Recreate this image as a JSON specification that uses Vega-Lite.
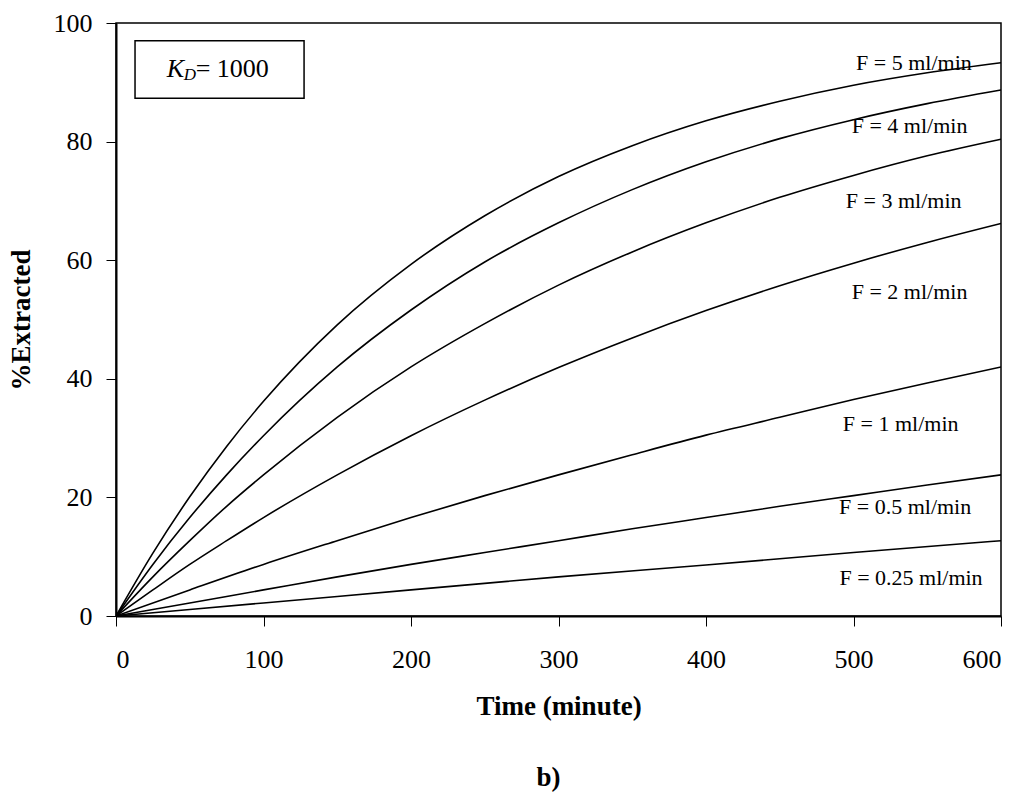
{
  "$schema": "https://vega.github.io/schema/vega-lite/v6.json",
  "width": 885,
  "height": 593,
  "autosize": "none",
  "padding": {"left": 116, "top": 23, "right": 26, "bottom": 176},
  "background": "white",
  "config": {
    "font": "Liberation Serif",
    "view": {"stroke": "black", "strokeWidth": 1.5},
    "axis": {
      "grid": false,
      "domainColor": "black",
      "domainWidth": 2,
      "tickColor": "black",
      "tickWidth": 1,
      "tickSize": 10,
      "labelFont": "Liberation Serif",
      "labelFontSize": 26,
      "labelColor": "black",
      "titleFont": "Liberation Serif",
      "titleFontSize": 27,
      "titleFontWeight": "bold",
      "titleColor": "black"
    }
  },
  "title": {
    "text": "b)",
    "orient": "bottom",
    "anchor": "middle",
    "offset": 46,
    "dx": -10,
    "font": "Liberation Serif",
    "fontSize": 27,
    "fontWeight": "bold",
    "color": "black"
  },
  "datasets": {
    "curves": [
      {"F": "5", "t": 0, "pct": 0}, {"F": "5", "t": 25, "pct": 10.6}, {"F": "5", "t": 50, "pct": 20.1}, {"F": "5", "t": 75, "pct": 28.6}, {"F": "5", "t": 100, "pct": 36.2}, {"F": "5", "t": 150, "pct": 49.1}, {"F": "5", "t": 200, "pct": 59.3}, {"F": "5", "t": 250, "pct": 67.5}, {"F": "5", "t": 300, "pct": 74.1}, {"F": "5", "t": 350, "pct": 79.3}, {"F": "5", "t": 400, "pct": 83.5}, {"F": "5", "t": 450, "pct": 86.8}, {"F": "5", "t": 500, "pct": 89.5}, {"F": "5", "t": 550, "pct": 91.6}, {"F": "5", "t": 600, "pct": 93.3},
      {"F": "4", "t": 0, "pct": 0}, {"F": "4", "t": 25, "pct": 8.7}, {"F": "4", "t": 50, "pct": 16.6}, {"F": "4", "t": 75, "pct": 23.8}, {"F": "4", "t": 100, "pct": 30.4}, {"F": "4", "t": 150, "pct": 42.0}, {"F": "4", "t": 200, "pct": 51.6}, {"F": "4", "t": 250, "pct": 59.7}, {"F": "4", "t": 300, "pct": 66.3}, {"F": "4", "t": 350, "pct": 71.9}, {"F": "4", "t": 400, "pct": 76.6}, {"F": "4", "t": 450, "pct": 80.5}, {"F": "4", "t": 500, "pct": 83.7}, {"F": "4", "t": 550, "pct": 86.4}, {"F": "4", "t": 600, "pct": 88.7},
      {"F": "3", "t": 0, "pct": 0}, {"F": "3", "t": 25, "pct": 6.6}, {"F": "3", "t": 50, "pct": 12.7}, {"F": "3", "t": 75, "pct": 18.5}, {"F": "3", "t": 100, "pct": 23.8}, {"F": "3", "t": 150, "pct": 33.5}, {"F": "3", "t": 200, "pct": 42.0}, {"F": "3", "t": 250, "pct": 49.3}, {"F": "3", "t": 300, "pct": 55.8}, {"F": "3", "t": 350, "pct": 61.4}, {"F": "3", "t": 400, "pct": 66.3}, {"F": "3", "t": 450, "pct": 70.6}, {"F": "3", "t": 500, "pct": 74.3}, {"F": "3", "t": 550, "pct": 77.6}, {"F": "3", "t": 600, "pct": 80.4},
      {"F": "2", "t": 0, "pct": 0}, {"F": "2", "t": 25, "pct": 4.4}, {"F": "2", "t": 50, "pct": 8.7}, {"F": "2", "t": 75, "pct": 12.7}, {"F": "2", "t": 100, "pct": 16.6}, {"F": "2", "t": 150, "pct": 23.8}, {"F": "2", "t": 200, "pct": 30.4}, {"F": "2", "t": 250, "pct": 36.4}, {"F": "2", "t": 300, "pct": 41.9}, {"F": "2", "t": 350, "pct": 46.9}, {"F": "2", "t": 400, "pct": 51.5}, {"F": "2", "t": 450, "pct": 55.7}, {"F": "2", "t": 500, "pct": 59.5}, {"F": "2", "t": 550, "pct": 63.0}, {"F": "2", "t": 600, "pct": 66.2},
      {"F": "1", "t": 0, "pct": 0}, {"F": "1", "t": 50, "pct": 4.4}, {"F": "1", "t": 100, "pct": 8.7}, {"F": "1", "t": 150, "pct": 12.7}, {"F": "1", "t": 200, "pct": 16.6}, {"F": "1", "t": 250, "pct": 20.3}, {"F": "1", "t": 300, "pct": 23.8}, {"F": "1", "t": 350, "pct": 27.2}, {"F": "1", "t": 400, "pct": 30.5}, {"F": "1", "t": 450, "pct": 33.5}, {"F": "1", "t": 500, "pct": 36.5}, {"F": "1", "t": 550, "pct": 39.3}, {"F": "1", "t": 600, "pct": 42.0},
      {"F": "0.5", "t": 0, "pct": 0}, {"F": "0.5", "t": 50, "pct": 2.2}, {"F": "0.5", "t": 100, "pct": 4.4}, {"F": "0.5", "t": 150, "pct": 6.6}, {"F": "0.5", "t": 200, "pct": 8.7}, {"F": "0.5", "t": 250, "pct": 10.7}, {"F": "0.5", "t": 300, "pct": 12.7}, {"F": "0.5", "t": 350, "pct": 14.7}, {"F": "0.5", "t": 400, "pct": 16.6}, {"F": "0.5", "t": 450, "pct": 18.5}, {"F": "0.5", "t": 500, "pct": 20.3}, {"F": "0.5", "t": 550, "pct": 22.1}, {"F": "0.5", "t": 600, "pct": 23.8},
      {"F": "0.25", "t": 0, "pct": 0}, {"F": "0.25", "t": 100, "pct": 2.2}, {"F": "0.25", "t": 200, "pct": 4.4}, {"F": "0.25", "t": 300, "pct": 6.6}, {"F": "0.25", "t": 400, "pct": 8.6}, {"F": "0.25", "t": 500, "pct": 10.7}, {"F": "0.25", "t": 600, "pct": 12.7}
    ],
    "curveLabels": [
      {"label": "F = 5 ml/min", "t": 541, "pct": 93.3},
      {"label": "F = 4  ml/min", "t": 538, "pct": 82.6},
      {"label": "F = 3  ml/min", "t": 534, "pct": 70.0},
      {"label": "F = 2 ml/min", "t": 538, "pct": 54.6},
      {"label": "F = 1 ml/min", "t": 532, "pct": 32.3},
      {"label": "F = 0.5 ml/min", "t": 535, "pct": 18.3},
      {"label": "F = 0.25 ml/min", "t": 539, "pct": 6.4}
    ],
    "kdBox": [{"t1": 12.9, "t2": 127.5, "p1": 87.3, "p2": 97.0}],
    "kdSymbol": [{"part": "K", "t": 34.4, "pct": 90.9}],
    "kdSub": [{"part": "D", "t": 46.0, "pct": 90.4}],
    "kdValue": [{"part": "= 1000", "t": 54.0, "pct": 90.9}]
  },
  "layer": [
    {
      "data": {"name": "curves"},
      "mark": {"type": "line", "color": "black", "strokeWidth": 1.6, "interpolate": "monotone", "clip": true},
      "encoding": {
        "x": {
          "field": "t", "type": "quantitative",
          "scale": {"domain": [0, 600], "nice": false},
          "axis": {"values": [0, 100, 200, 300, 400, 500, 600], "title": "Time (minute)", "labelPadding": 20, "titlePadding": 21}
        },
        "y": {
          "field": "pct", "type": "quantitative",
          "scale": {"domain": [0, 100], "nice": false},
          "axis": {"values": [0, 20, 40, 60, 80, 100], "title": "%Extracted", "labelPadding": 14, "titlePadding": 18}
        },
        "detail": {"field": "F", "type": "nominal"}
      }
    },
    {
      "data": {"name": "curveLabels"},
      "mark": {"type": "text", "font": "Liberation Serif", "fontSize": 22, "color": "black", "align": "center", "baseline": "middle"},
      "encoding": {
        "x": {"field": "t", "type": "quantitative"},
        "y": {"field": "pct", "type": "quantitative"},
        "text": {"field": "label"}
      }
    },
    {
      "data": {"name": "kdBox"},
      "mark": {"type": "rect", "fill": "white", "stroke": "black", "strokeWidth": 1.5},
      "encoding": {
        "x": {"field": "t1", "type": "quantitative"},
        "x2": {"field": "t2"},
        "y": {"field": "p1", "type": "quantitative"},
        "y2": {"field": "p2"}
      }
    },
    {
      "data": {"name": "kdSymbol"},
      "mark": {"type": "text", "font": "Liberation Serif", "fontSize": 26, "fontStyle": "italic", "color": "black", "align": "left", "baseline": "alphabetic"},
      "encoding": {
        "x": {"field": "t", "type": "quantitative"},
        "y": {"field": "pct", "type": "quantitative"},
        "text": {"field": "part"}
      }
    },
    {
      "data": {"name": "kdSub"},
      "mark": {"type": "text", "font": "Liberation Serif", "fontSize": 17, "fontStyle": "italic", "color": "black", "align": "left", "baseline": "alphabetic"},
      "encoding": {
        "x": {"field": "t", "type": "quantitative"},
        "y": {"field": "pct", "type": "quantitative"},
        "text": {"field": "part"}
      }
    },
    {
      "data": {"name": "kdValue"},
      "mark": {"type": "text", "font": "Liberation Serif", "fontSize": 26, "color": "black", "align": "left", "baseline": "alphabetic"},
      "encoding": {
        "x": {"field": "t", "type": "quantitative"},
        "y": {"field": "pct", "type": "quantitative"},
        "text": {"field": "part"}
      }
    }
  ]
}
